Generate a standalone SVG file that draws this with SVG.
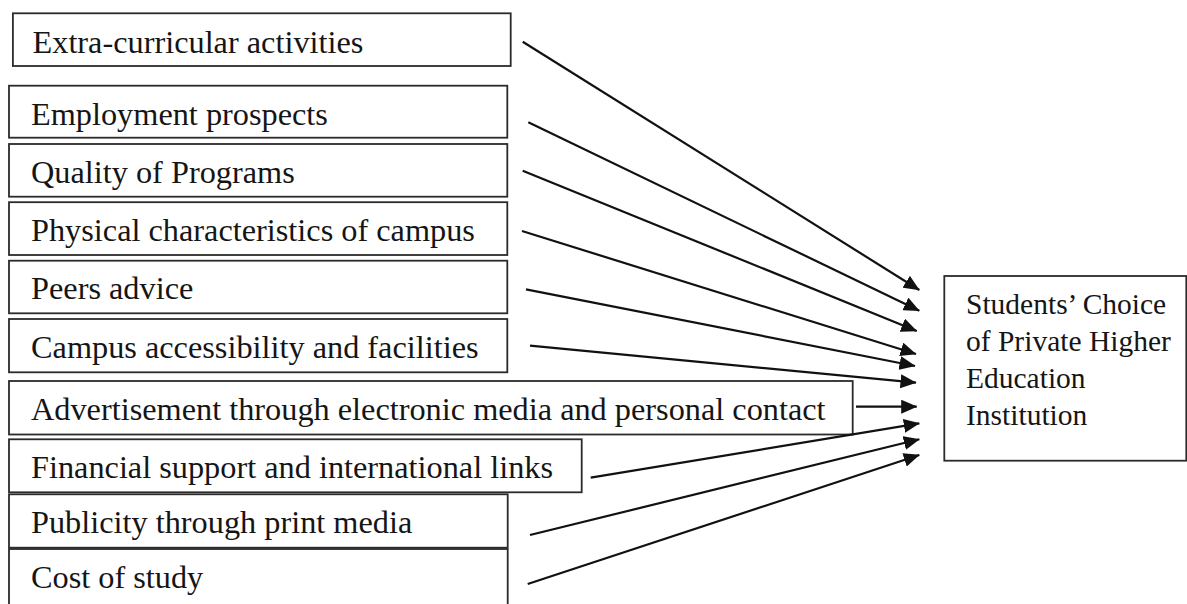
<svg xmlns="http://www.w3.org/2000/svg" width="1187" height="604" viewBox="0 0 1187 604">
  <style>
    .box { fill: #ffffff; stroke: #2b2b2b; stroke-width: 1.8; }
    .lbl { font-family: "Liberation Serif", "Times New Roman", serif; font-size: 32.3px; fill: #151515; }
    .out { font-family: "Liberation Serif", "Times New Roman", serif; font-size: 29.5px; fill: #151515; }
    .arr { stroke: #111111; stroke-width: 2.2; fill: none; marker-end: url(#head); }
  </style>
  <defs>
    <marker id="head" viewBox="0 0 16 14" refX="15.5" refY="7" markerWidth="16" markerHeight="14" markerUnits="userSpaceOnUse" orient="auto">
      <path d="M0,0 L16,7 L0,14 z" fill="#111111"/>
    </marker>
  </defs>
  <rect width="1187" height="604" fill="#ffffff"/>

  <!-- factor boxes -->
  <g id="extra-curricular">
    <rect class="box" x="12.9" y="13.3" width="497.8" height="52.7"/>
    <text class="lbl" x="32.5" y="52.5">Extra-curricular activities</text>
  </g>
  <g id="employment">
    <rect class="box" x="9" y="85.7" width="498.3" height="52"/>
    <text class="lbl" x="31" y="124.8">Employment prospects</text>
  </g>
  <g id="quality">
    <rect class="box" x="9" y="144" width="498.3" height="52.7"/>
    <text class="lbl" x="31" y="183.2">Quality of Programs</text>
  </g>
  <g id="physical">
    <rect class="box" x="9" y="202.2" width="498.3" height="52.8"/>
    <text class="lbl" x="31" y="241">Physical characteristics of campus</text>
  </g>
  <g id="peers">
    <rect class="box" x="9" y="260.7" width="498.3" height="52.6"/>
    <text class="lbl" x="31" y="299.3">Peers advice</text>
  </g>
  <g id="accessibility">
    <rect class="box" x="9" y="319" width="498.3" height="53.3"/>
    <text class="lbl" x="31" y="358.3">Campus accessibility and facilities</text>
  </g>
  <g id="advertisement">
    <rect class="box" x="9" y="381" width="843.7" height="53.5"/>
    <text class="lbl" x="31" y="419.5">Advertisement through electronic media and personal contact</text>
  </g>
  <g id="financial">
    <rect class="box" x="9" y="439.3" width="572.7" height="53"/>
    <text class="lbl" x="31" y="478.3">Financial support and international links</text>
  </g>
  <g id="publicity">
    <rect class="box" x="9" y="494.3" width="498.7" height="53.4"/>
    <text class="lbl" x="31" y="533.3">Publicity through print media</text>
  </g>
  <g id="cost">
    <rect class="box" x="9" y="549" width="498.7" height="62"/>
    <text class="lbl" x="31" y="588.3">Cost of study</text>
  </g>

  <!-- outcome box -->
  <g id="choice">
    <rect class="box" x="944.3" y="276" width="242" height="184.7"/>
    <text class="out" x="966" y="314">Students’ Choice</text>
    <text class="out" x="966" y="351">of Private Higher</text>
    <text class="out" x="966" y="388">Education</text>
    <text class="out" x="966" y="425">Institution</text>
  </g>

  <!-- connectors -->
  <g id="connectors">
    <line class="arr" x1="522.7" y1="41.7" x2="919.3" y2="290"/>
    <line class="arr" x1="528.3" y1="122.3" x2="919.3" y2="310.7"/>
    <line class="arr" x1="522.7" y1="170.7" x2="916.7" y2="331"/>
    <line class="arr" x1="522" y1="231" x2="916" y2="354"/>
    <line class="arr" x1="526" y1="289.3" x2="915" y2="366"/>
    <line class="arr" x1="530" y1="345.7" x2="916" y2="382.7"/>
    <line class="arr" x1="856" y1="406.7" x2="916.7" y2="406.7"/>
    <line class="arr" x1="590.7" y1="477.7" x2="919.3" y2="423.3"/>
    <line class="arr" x1="530" y1="535" x2="919.3" y2="439.3"/>
    <line class="arr" x1="527.7" y1="584" x2="919.3" y2="455"/>
  </g>
</svg>
